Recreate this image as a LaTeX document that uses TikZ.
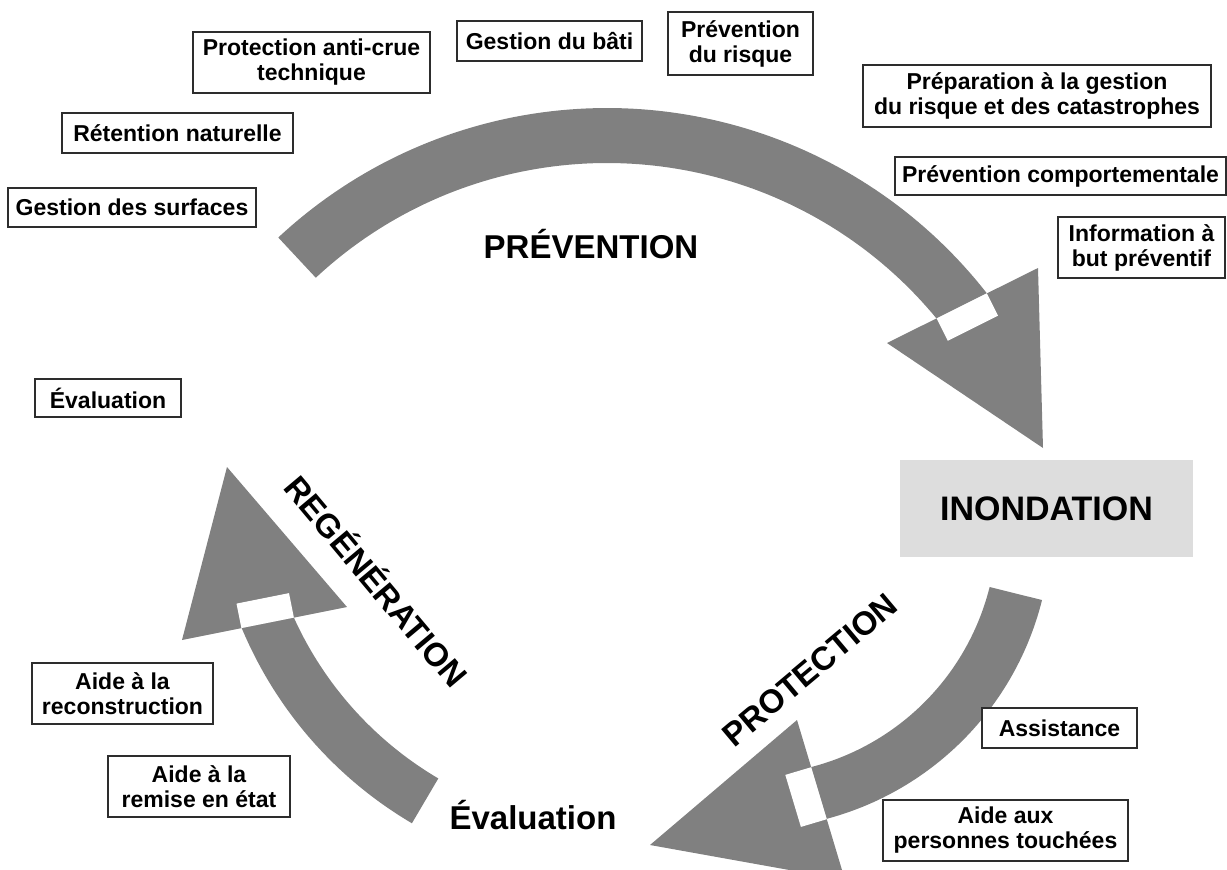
\documentclass[tikz,border=0pt]{standalone}
\usepackage{fontspec}
\setmainfont{Liberation Sans}
\definecolor{arrowgrey}{RGB}{128,128,128}
\definecolor{floodgrey}{RGB}{221,221,221}
\definecolor{boxline}{RGB}{45,45,45}
\begin{document}
\begin{tikzpicture}[x=1pt,y=-1pt,
  lbl/.style={draw=boxline, line width=1.8pt, fill=white, align=center,
    font=\bfseries\fontsize{23}{25}\selectfont, inner sep=0pt},
  big/.style={font=\bfseries\fontsize{33}{38}\selectfont, inner sep=0pt},
  arrowbody/.style={fill=arrowgrey},
  gap/.style={fill=white}]
\useasboundingbox (0,0) rectangle (1227,870);
\clip (0,0) rectangle (1227,870);

% ---------- PREVENTION arrow ----------
\fill[arrowbody] plot[domain=133:38, samples=90] ({607+482*cos(\x)},{590-482*sin(\x)})
  -- plot[domain=39.5:133, samples=90] ({607+427*cos(\x)},{590-427*sin(\x)}) -- cycle;
\fill[arrowbody] (1038,268) -- (887,343) -- (1043,448) -- cycle;
\fill[gap] (986.8,293.3) -- (936.6,318.4) -- (947.8,340.8) -- (998,315.7) -- cycle;

% ---------- PROTECTION arrow ----------
\fill[arrowbody] plot[domain=-14:-75.1, samples=60] ({749+302*cos(\x)},{527-302*sin(\x)})
  -- plot[domain=-75.5:-14, samples=60] ({749+248*cos(\x)},{527-248*sin(\x)}) -- cycle;
\fill[arrowbody] (797,720) -- (845,880) -- (650,845) -- cycle;
\fill[gap] (826.8,819.2) -- (811.2,767.2) -- (785.3,774.9) -- (800.9,826.9) -- cycle;

% ---------- REGENERATION arrow ----------
\fill[arrowbody] plot[domain=239.5:202.67, samples=60] ({620+410*cos(\x)},{470-410*sin(\x)})
  -- plot[domain=204.35:239.5, samples=60] ({620+358*cos(\x)},{470-358*sin(\x)}) -- cycle;
\fill[arrowbody] (227,467) -- (182,640) -- (347,607) -- cycle;
\fill[gap] (241.4,628.1) -- (293.9,617.6) -- (289,593.1) -- (236.5,603.6) -- cycle;

% ---------- central texts ----------
\node[fill=floodgrey, minimum width=293pt, minimum height=97pt, inner sep=0pt,
  font=\bfseries\fontsize{34}{38}\selectfont] (inond) at (1046.5,508.5) {INONDATION};
\node[big] (prev) at (591,244) {PRÉVENTION};
\node[big, rotate=40] (prot) at (810,670) {PROTECTION};
\node[big, rotate=-50] (regen) at (378,580) {REGÉNÉRATION};
\node[big] (evalbig) at (533,815) {Évaluation};

% ---------- label boxes ----------
\node[lbl, minimum width=237pt, minimum height=61pt] (protac) at (311.5,62.5) {Protection anti-crue\\technique};
\node[lbl, minimum width=185pt, minimum height=40pt] (bati) at (549.5,41) {Gestion du bâti};
\node[lbl, minimum width=145pt, minimum height=63pt] (prevrisque) at (740.5,43.5) {Prévention\\du risque};
\node[lbl, minimum width=348pt, minimum height=62pt] (prepar) at (1037,96) {Préparation à la gestion\\du risque et des catastrophes};
\node[lbl, minimum width=331pt, minimum height=38pt] (prevcomp) at (1060.5,176) {Prévention comportementale};
\node[lbl, minimum width=167pt, minimum height=61pt] (info) at (1141.5,247.5) {Information à\\but préventif};
\node[lbl, minimum width=231pt, minimum height=40pt] (retention) at (177.5,133) {Rétention naturelle};
\node[lbl, minimum width=248pt, minimum height=39pt] (surfaces) at (132,207.5) {Gestion des surfaces};
\node[lbl, minimum width=146pt, minimum height=38pt] (evalbox) at (108,398) {Évaluation};
\node[lbl, minimum width=181pt, minimum height=61pt] (recon) at (122.5,693.5) {Aide à la\\reconstruction};
\node[lbl, minimum width=182pt, minimum height=61pt] (remise) at (199,786.5) {Aide à la\\remise en état};
\node[lbl, minimum width=155pt, minimum height=40pt] (assist) at (1059.5,728) {Assistance};
\node[lbl, minimum width=245pt, minimum height=61pt] (pers) at (1005.5,830.5) {Aide aux\\personnes touchées};
\end{tikzpicture}
\end{document}
